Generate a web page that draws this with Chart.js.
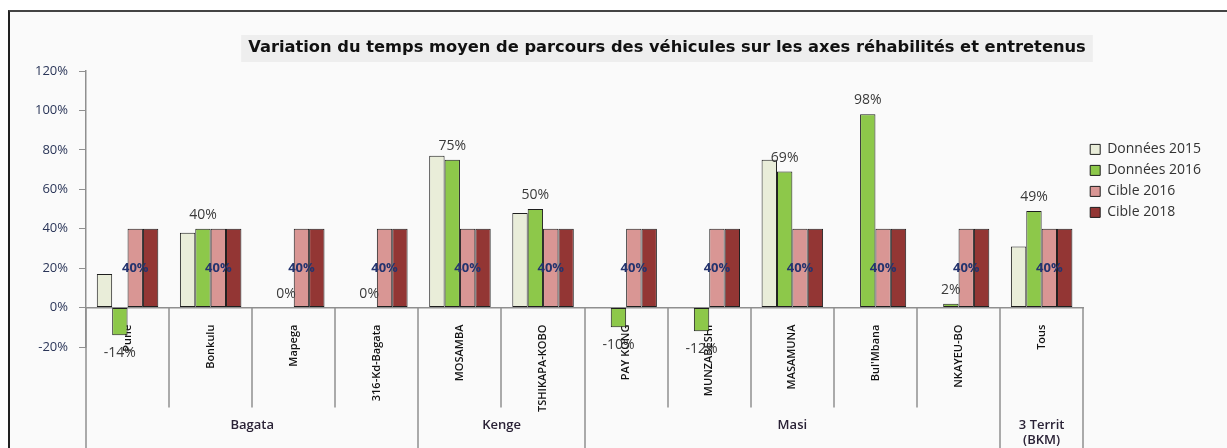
<!DOCTYPE html>
<html>
<head>
<meta charset="utf-8">
<script src="https://cdn.jsdelivr.net/npm/chart.js@4.4.1/dist/chart.umd.min.js"></script>
<style>
  html, body { margin: 0; padding: 0; background: #fff; }
  body { width: 1227px; height: 448px; overflow: hidden; position: relative; }
  #frame { position: absolute; left: 8px; top: 10px; width: 1240px; height: 460px;
           border-left: 2px solid #222; border-top: 2px solid #444; background: #fafafa; }
  #wrap { position: absolute; left: 0; top: 0; width: 1227px; height: 448px; }
</style>
</head>
<body>
<div id="frame"></div>
<div id="wrap"><canvas id="chart"></canvas></div>
<script>
// Data
const chartTitle = 'Variation du temps moyen de parcours des véhicules sur les axes réhabilités et entretenus';
const categories = ['Pune', 'Bonkulu', 'Mapega', '316-Kd-Bagata', 'MOSAMBA', 'TSHIKAPA-KOBO',
                    'PAY KONG', 'MUNZABESHI', 'MASAMUNA', "Bul'Mbana", 'NKAYEU-BO', 'Tous'];
const groupNames = ['Bagata', 'Kenge', 'Masi', ['3 Territ', '(BKM)']];
const groupSizes = [4, 2, 5, 1];
const seriesNames = ['Données 2015', 'Données 2016', 'Cible 2016', 'Cible 2018'];
const donnees2015 = [17, 38, null, null, 77, 48, 0, 0, 75, null, null, 31];
const donnees2016 = [-14, 40, 0, 0, 75, 50, -10, -12, 69, 98, 2, 49];
const cible2016 = [40, 40, 40, 40, 40, 40, 40, 40, 40, 40, 40, 40];
const cible2018 = [40, 40, 40, 40, 40, 40, 40, 40, 40, 40, 40, 40];
const yTicks = [-20, 0, 20, 40, 60, 80, 100, 120];

const FONT = 'Open Sans';
const lineGrey = '#8f8f8f';

const titleBox = {
    id: 'titleBox',
    beforeDraw(chart) {
        const ctx = chart.ctx;
        ctx.save();
        ctx.font = 'bold 16.3px "DejaVu Sans"';
        const w = ctx.measureText(chartTitle).width;
        const cx = 667;
        ctx.fillStyle = '#eeeeee';
        ctx.fillRect(cx - w / 2 - 7, 35, w + 14, 27);
        ctx.fillStyle = '#111';
        ctx.textAlign = 'center';
        ctx.textBaseline = 'middle';
        ctx.fillText(chartTitle, cx, 48);
        ctx.restore();
    }
};

// multi-level category table under the zero line
const categoryTable = {
    id: 'categoryTable',
    afterDraw(chart) {
        const { ctx, chartArea, height } = chart;
        const xs = chart.scales.x, ys = chart.scales.y;
        const y0 = ys.getPixelForValue(0);
        const n = categories.length;
        const edge = i => i === 0 ? chartArea.left : i === n ? chartArea.right
            : (xs.getPixelForTick(i - 1) + xs.getPixelForTick(i)) / 2;
        const groupEdges = [0];
        groupSizes.forEach(s => groupEdges.push(groupEdges[groupEdges.length - 1] + s));

        ctx.save();
        ctx.strokeStyle = lineGrey;
        ctx.lineWidth = 1.5;
        for (let i = 0; i <= n; i++) {
            const isGroup = groupEdges.includes(i);
            const px = Math.round(edge(i));
            ctx.beginPath();
            ctx.moveTo(px, y0);
            ctx.lineTo(px, isGroup ? height : y0 + 100);
            ctx.stroke();
        }
        ctx.fillStyle = '#2a2236';
        ctx.font = `600 13px ${FONT}`;
        ctx.textAlign = 'center';
        ctx.textBaseline = 'middle';
        groupNames.forEach((name, g) => {
            const cx = (edge(groupEdges[g]) + edge(groupEdges[g + 1])) / 2;
            [].concat(name).forEach((line, k) => ctx.fillText(line, cx, y0 + 118 + k * 15));
        });
        ctx.restore();
    }
};

const valueLabels = {
    id: 'valueLabels',
    afterDatasetsDraw(chart) {
        const ctx = chart.ctx;
        ctx.save();
        ctx.textAlign = 'center';
        ctx.textBaseline = 'middle';
        ctx.font = `14px ${FONT}`;
        ctx.fillStyle = '#3a3a3a';
        chart.getDatasetMeta(1).data.forEach((bar, i) => {
            const v = donnees2016[i];
            if (v == null) return;
            ctx.fillText(v + '%', bar.x, v >= 0 ? bar.y - 14 : bar.y + 18);
        });
        ctx.font = `bold 13px ${FONT}`;
        ctx.fillStyle = '#24336e';
        chart.getDatasetMeta(2).data.forEach((bar, i) => {
            ctx.fillText(cible2016[i] + '%', bar.x, (bar.y + bar.base) / 2);
        });
        ctx.restore();
    }
};

const colors = ['#e9edd9', '#8dc84a', '#d99694', '#933634'];
const series = [donnees2015, donnees2016, cible2016, cible2018];

new Chart(document.getElementById('chart'), {
    type: 'bar',
    data: {
        labels: categories,
        datasets: series.map((data, i) => ({
            label: seriesNames[i],
            data: data,
            backgroundColor: colors[i],
            borderColor: '#1e1e1e',
            borderWidth: 1,
            borderSkipped: false,
            categoryPercentage: 0.74,
            barPercentage: 1
        }))
    },
    options: {
        responsive: true,
        maintainAspectRatio: false,
        animation: false,
        layout: { padding: { top: 71, bottom: 101, left: 26, right: 16 } },
        scales: {
            x: {
                position: { y: 0 },
                grid: { display: false },
                border: { color: lineGrey, width: 1.5 },
                ticks: {
                    autoSkip: false, minRotation: 90, maxRotation: 90, padding: 9,
                    color: '#111', font: { family: FONT, size: 11, weight: '600' }
                }
            },
            y: {
                min: yTicks[0],
                max: yTicks[yTicks.length - 1],
                ticks: {
                    stepSize: yTicks[1] - yTicks[0],
                    callback: v => v + '%',
                    padding: 11,
                    color: '#2a3558',
                    font: { family: FONT, size: 13 }
                },
                grid: { drawOnChartArea: false, tickLength: 7, color: lineGrey },
                border: { color: lineGrey, width: 1.5 },
                afterFit: s => { s.width = 60; }
            }
        },
        plugins: {
            legend: {
                position: 'right',
                align: 'start',
                title: { display: true, text: '', padding: { top: 50, bottom: 0 }, font: { size: 12 } },
                labels: {
                    boxWidth: 10, boxHeight: 10, padding: 7,
                    color: '#333', font: { family: FONT, size: 14 }
                }
            },
            tooltip: { enabled: false }
        }
    },
    plugins: [titleBox, categoryTable, valueLabels]
});
</script>
</body>
</html>
